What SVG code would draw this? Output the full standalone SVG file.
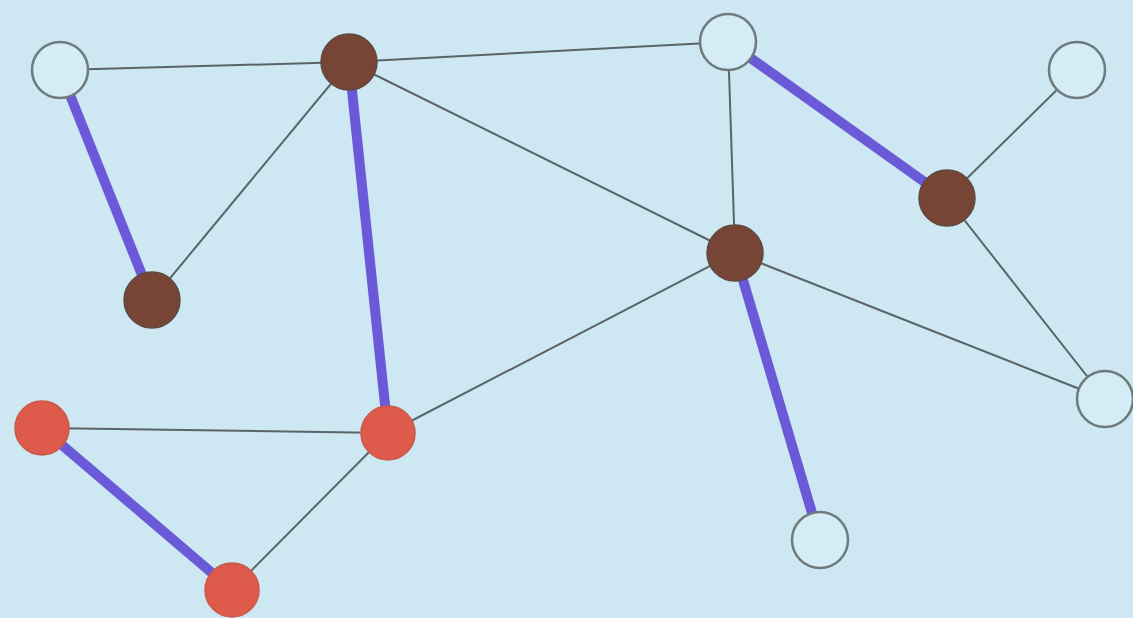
<svg xmlns="http://www.w3.org/2000/svg" width="1133" height="618" viewBox="0 0 1133 618">
<style>
.thin{stroke:#5a6466;stroke-width:2;fill:none}
.thick{stroke:#6b5ad8;stroke-width:10;fill:none}
.w{fill:#d3ecf5;stroke:#6f7a7c;stroke-width:2.5}
.b{fill:#774535;stroke:#5e4a40;stroke-width:1.5}
.r{fill:#de5a4a;stroke:#c9594c;stroke-width:1.5}
</style>
<rect width="1133" height="618" fill="#cde8f2"/>
<g id="connectors">
<line class="thin" x1="60" y1="70" x2="349" y2="62"/>
<line class="thin" x1="349" y1="62" x2="152" y2="300"/>
<line class="thin" x1="349" y1="62" x2="728" y2="42"/>
<line class="thin" x1="349" y1="62" x2="735" y2="253"/>
<line class="thin" x1="728" y1="42" x2="735" y2="253"/>
<line class="thin" x1="1077" y1="70" x2="947" y2="198"/>
<line class="thin" x1="947" y1="198" x2="1105" y2="399"/>
<line class="thin" x1="735" y1="253" x2="1105" y2="399"/>
<line class="thin" x1="735" y1="253" x2="388" y2="433"/>
<line class="thin" x1="42" y1="428" x2="388" y2="433"/>
<line class="thin" x1="388" y1="433" x2="232" y2="590"/>
<line class="thick" x1="60" y1="70" x2="152" y2="300"/>
<line class="thick" x1="349" y1="62" x2="388" y2="433"/>
<line class="thick" x1="728" y1="42" x2="947" y2="198"/>
<line class="thick" x1="735" y1="253" x2="820" y2="540"/>
<line class="thick" x1="42" y1="428" x2="232" y2="590"/>
</g>
<g id="n1"><circle class="w" cx="60" cy="70" r="28"/></g>
<g id="n2"><circle class="b" cx="349" cy="62" r="28"/></g>
<g id="n3"><circle class="w" cx="728" cy="42" r="28"/></g>
<g id="n4"><circle class="w" cx="1077" cy="70" r="28"/></g>
<g id="n5"><circle class="b" cx="947" cy="198" r="28"/></g>
<g id="n6"><circle class="b" cx="735" cy="253" r="28"/></g>
<g id="n7"><circle class="b" cx="152" cy="300" r="28"/></g>
<g id="n8"><circle class="r" cx="42" cy="428" r="27"/></g>
<g id="n9"><circle class="r" cx="388" cy="433" r="27"/></g>
<g id="n10"><circle class="r" cx="232" cy="590" r="27"/></g>
<g id="n11"><circle class="w" cx="1105" cy="399" r="28"/></g>
<g id="n12"><circle class="w" cx="820" cy="540" r="28"/></g>
</svg>
